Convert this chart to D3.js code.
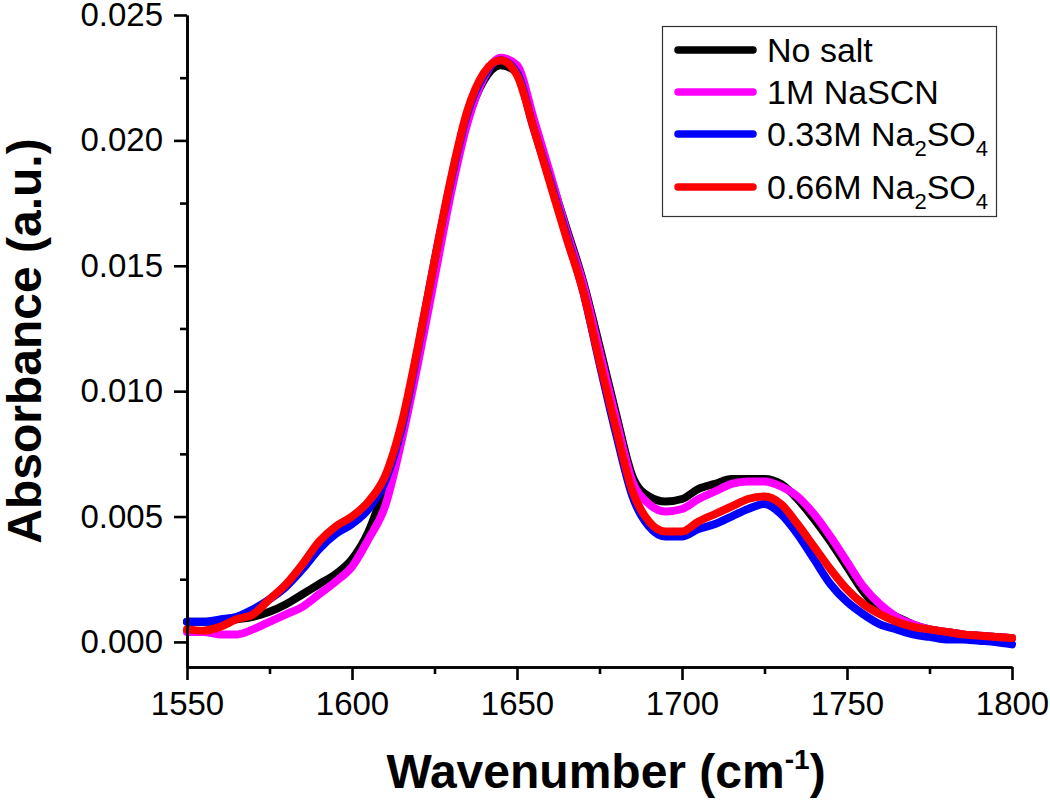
<!DOCTYPE html>
<html>
<head>
<meta charset="utf-8">
<script src="https://cdn.jsdelivr.net/npm/d3@7"></script>
<style>
  html, body { margin: 0; padding: 0; background: #fff; }
  svg { display: block; }
  text { font-family: "Liberation Sans", Arial, Helvetica, sans-serif; }
</style>
</head>
<body>
<svg id="chart" width="1050" height="801"></svg>
<script>
// ---- Data ----
const wavenumber = [1550,1555,1560,1565,1570,1575,1580,1585,1590,1595,1600,1605,1610,1615,1620,1625,1630,1635,1640,1645,1650,1655,1660,1665,1670,1675,1680,1685,1690,1695,1700,1705,1710,1715,1720,1725,1730,1735,1740,1745,1750,1755,1760,1765,1770,1775,1780,1785,1790,1795,1800];

const noSalt = [0.0008,0.0008,0.0008,0.0009,0.0010,0.0012,0.0015,0.0019,0.0023,0.0027,0.0033,0.0044,0.0062,0.0083,0.0114,0.0148,0.0181,0.0208,0.0224,0.0230,0.0227,0.0208,0.0186,0.0165,0.0144,0.0118,0.0091,0.0066,0.0058,0.0056,0.0057,0.0061,0.0063,0.0065,0.0065,0.0065,0.0063,0.0057,0.0049,0.0040,0.0030,0.0020,0.0013,0.0010,0.0007,0.0005,0.0004,0.0003,0.00025,0.0002,0.00015];

const naSCN = [0.0004,0.0004,0.0003,0.0003,0.0005,0.0008,0.0011,0.0014,0.0019,0.0024,0.0030,0.0041,0.0054,0.0080,0.0111,0.0145,0.0179,0.0207,0.0225,0.0233,0.0230,0.0209,0.0187,0.0164,0.0143,0.0116,0.0089,0.0064,0.0055,0.0052,0.0053,0.0057,0.0060,0.0063,0.0064,0.0064,0.0062,0.0058,0.0051,0.0042,0.0032,0.0022,0.0015,0.0010,0.0007,0.0005,0.0004,0.0003,0.00025,0.0002,0.00015];

const na2so4_033 = [0.0008,0.0008,0.0009,0.0010,0.0013,0.0017,0.0022,0.0029,0.0037,0.0043,0.0047,0.0053,0.0064,0.0085,0.0117,0.0152,0.0184,0.0211,0.0226,0.0232,0.0227,0.0205,0.0184,0.0162,0.0140,0.0111,0.0083,0.0058,0.0046,0.0042,0.0042,0.0045,0.0047,0.0050,0.0053,0.0055,0.0051,0.0043,0.0033,0.0023,0.0016,0.0011,0.0007,0.0005,0.0003,0.0002,0.0001,0.0001,0.00005,0.0,-0.0001];

const na2so4_066 = [0.0005,0.00045,0.0006,0.0009,0.0011,0.0017,0.0023,0.0031,0.0040,0.0046,0.0050,0.0056,0.0066,0.0087,0.0118,0.0152,0.0185,0.0212,0.0227,0.0232,0.0226,0.0205,0.0183,0.0161,0.0140,0.0112,0.0085,0.0060,0.0048,0.0044,0.0044,0.0048,0.0051,0.0054,0.0057,0.0058,0.0055,0.0047,0.0038,0.0029,0.0021,0.0015,0.0011,0.0008,0.0006,0.0005,0.0004,0.0003,0.00025,0.0002,0.00016];

const seriesNames = ["No salt", "1M NaSCN", "0.33M Na2SO4", "0.66M Na2SO4"];
const seriesColors = ["#000000", "#ff00ff", "#0000ff", "#ff0000"];
const seriesValues = [noSalt, naSCN, na2so4_033, na2so4_066];

const xMajorTicks = [1550,1600,1650,1700,1750,1800];
const xMinorTicks = [1575,1625,1675,1725,1775];
const yMajorTicks = [0.000,0.005,0.010,0.015,0.020,0.025];
const yMinorTicks = [0.0025,0.0075,0.0125,0.0175,0.0225];

// ---- Layout ----
const svg = d3.select("#chart");
const mLeft = 187, mRight = 1012, mTop = 15, mBottom = 667;

const x = d3.scaleLinear().domain([1550, 1800]).range([mLeft, mRight]);
const y = d3.scaleLinear().domain([-0.001, 0.025]).range([mBottom, mTop]);

// Curves
const line = d3.line()
  .x((d, i) => x(wavenumber[i]))
  .y(d => y(d))
  .curve(d3.curveMonotoneX);

const plot = svg.append("g");
seriesValues.forEach((vals, k) => {
  plot.append("path")
    .datum(vals)
    .attr("d", line)
    .attr("fill", "none")
    .attr("stroke", seriesColors[k])
    .attr("stroke-width", 8)
    .attr("stroke-linejoin", "round")
    .attr("stroke-linecap", "round");
});

// Axes
const axisW = 2.6;
function styleAxis(g) {
  g.select(".domain").attr("stroke", "#000").attr("stroke-width", axisW);
  g.selectAll(".tick line").attr("stroke", "#000").attr("stroke-width", axisW);
  g.selectAll(".tick text").attr("font-size", 33).attr("fill", "#000")
    .attr("font-family", "'Liberation Sans', Arial, sans-serif");
}

const xAxisMinor = d3.axisBottom(x).tickValues(xMinorTicks).tickSize(7).tickSizeOuter(0).tickFormat("");
const xAxis = d3.axisBottom(x).tickValues(xMajorTicks).tickSize(13).tickSizeOuter(0).tickPadding(12).tickFormat(d3.format("d"));
svg.append("g").attr("transform", `translate(0,${mBottom})`).call(xAxisMinor).call(styleAxis);
svg.append("g").attr("transform", `translate(0,${mBottom})`).call(xAxis).call(styleAxis);

const yAxisMinor = d3.axisLeft(y).tickValues(yMinorTicks).tickSize(7).tickSizeOuter(0).tickFormat("");
const yAxis = d3.axisLeft(y).tickValues(yMajorTicks).tickSize(13).tickSizeOuter(0).tickPadding(11).tickFormat(d3.format(".3f"));
svg.append("g").attr("transform", `translate(${mLeft},0)`).call(yAxisMinor).call(styleAxis);
svg.append("g").attr("transform", `translate(${mLeft},0)`).call(yAxis).call(styleAxis);

// Axis titles
const xt = svg.append("text")
  .attr("x", 606).attr("y", 788)
  .attr("text-anchor", "middle")
  .attr("font-size", 48).attr("font-weight", "bold");
xt.append("tspan").text("Wavenumber (cm");
xt.append("tspan").attr("font-size", 28).attr("dy", -19).text("-1");
xt.append("tspan").attr("dy", 19).text(")");

svg.append("text")
  .attr("transform", `translate(41,${(mTop + mBottom) / 2}) rotate(-90)`)
  .attr("text-anchor", "middle")
  .attr("font-size", 48).attr("font-weight", "bold")
  .text("Absorbance (a.u.)");

// Legend
const legend = svg.append("g");
legend.append("rect")
  .attr("x", 662.5).attr("y", 26.5).attr("width", 334).attr("height", 190)
  .attr("fill", "#fff").attr("stroke", "#333").attr("stroke-width", 1.2);

const legendY = [50, 92, 134, 187];
const legendLabels = [
  [["No salt", false]],
  [["1M NaSCN", false]],
  [["0.33M Na", false], ["2", true], ["SO", false], ["4", true]],
  [["0.66M Na", false], ["2", true], ["SO", false], ["4", true]]
];
seriesNames.forEach((name, k) => {
  legend.append("line")
    .attr("x1", 678).attr("x2", 753)
    .attr("y1", legendY[k]).attr("y2", legendY[k])
    .attr("stroke", seriesColors[k]).attr("stroke-width", 7.5)
    .attr("stroke-linecap", "round");
  const t = legend.append("text")
    .attr("x", 767).attr("y", legendY[k] + 12)
    .attr("font-size", 34).attr("fill", "#000");
  let sub = false;
  legendLabels[k].forEach(([s, isSub]) => {
    const ts = t.append("tspan").text(s);
    if (isSub && !sub) { ts.attr("font-size", 22).attr("dy", 10); sub = true; }
    else if (!isSub && sub) { ts.attr("dy", -10); sub = false; }
    else if (isSub) { ts.attr("font-size", 22); }
  });
});
</script>
</body>
</html>
